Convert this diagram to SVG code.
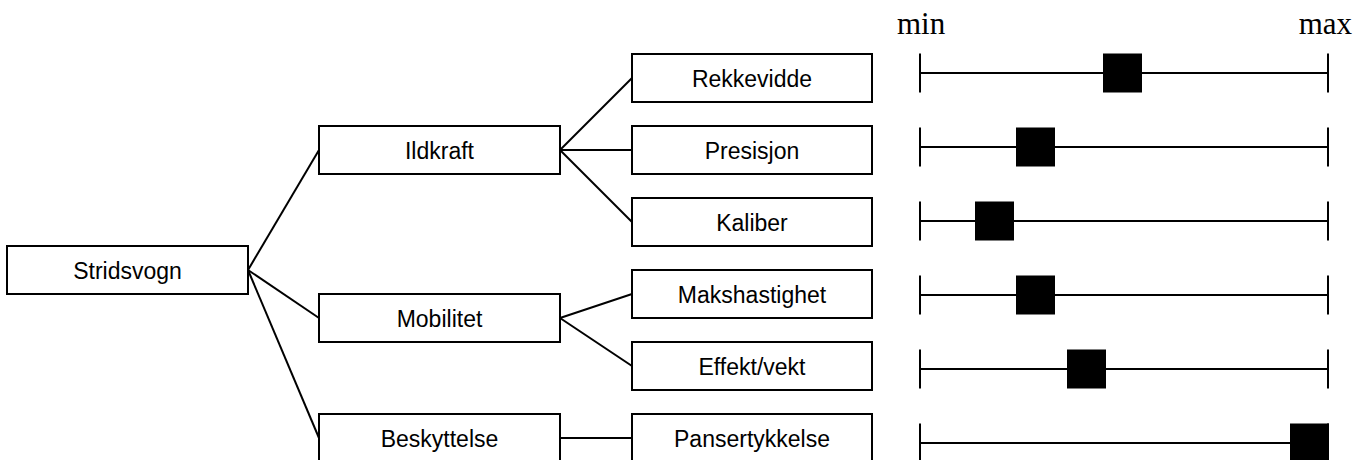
<svg xmlns="http://www.w3.org/2000/svg" width="1369" height="460" viewBox="0 0 1369 460">
<style>
.box rect{fill:#fff;stroke:#000;stroke-width:2}
.box text{font-family:"Liberation Sans",Arial,sans-serif;font-size:23px;text-anchor:middle;fill:#000}
.conn line{stroke:#000;stroke-width:2}
.scale line{stroke:#000;stroke-width:2}
.scale rect{fill:#000}
.lbl{font-family:"Liberation Serif","Times New Roman",serif;font-size:31px;fill:#000}
</style>
<rect width="1369" height="460" fill="#fff"/>
<g id="connectors" class="conn">
<line x1="248" y1="270" x2="319" y2="150"/>
<line x1="248" y1="270" x2="319" y2="318"/>
<line x1="248" y1="270" x2="319" y2="438"/>
<line x1="560" y1="150" x2="632" y2="78"/>
<line x1="560" y1="150" x2="632" y2="150"/>
<line x1="560" y1="150" x2="632" y2="222"/>
<line x1="560" y1="318" x2="632" y2="294"/>
<line x1="560" y1="318" x2="632" y2="366"/>
<line x1="560" y1="438" x2="632" y2="438"/>
</g>
<g id="stridsvogn" class="box"><rect x="7" y="246" width="241" height="48"/><text x="127.5" y="278.5">Stridsvogn</text></g>
<g id="ildkraft" class="box"><rect x="319" y="126" width="241" height="48"/><text x="439.5" y="158.5">Ildkraft</text></g>
<g id="mobilitet" class="box"><rect x="319" y="294" width="241" height="48"/><text x="439.5" y="326.5">Mobilitet</text></g>
<g id="beskyttelse" class="box"><rect x="319" y="414" width="241" height="48"/><text x="439.5" y="446.5">Beskyttelse</text></g>
<g id="rekkevidde" class="box"><rect x="632" y="54" width="240" height="48"/><text x="752" y="86.5">Rekkevidde</text></g>
<g id="presisjon" class="box"><rect x="632" y="126" width="240" height="48"/><text x="752" y="158.5">Presisjon</text></g>
<g id="kaliber" class="box"><rect x="632" y="198" width="240" height="48"/><text x="752" y="230.5">Kaliber</text></g>
<g id="makshastighet" class="box"><rect x="632" y="270" width="240" height="48"/><text x="752" y="302.5">Makshastighet</text></g>
<g id="effektvekt" class="box"><rect x="632" y="342" width="240" height="48"/><text x="752" y="374.5">Effekt/vekt</text></g>
<g id="pansertykkelse" class="box"><rect x="632" y="414" width="240" height="48"/><text x="752" y="446.5">Pansertykkelse</text></g>
<text class="lbl" x="897" y="34">min</text>
<text class="lbl" x="1352" y="34" text-anchor="end">max</text>
<g id="scale-rekkevidde" class="scale"><line x1="920" y1="53.5" x2="920" y2="92.5"/><line x1="1328" y1="53.5" x2="1328" y2="92.5"/><line x1="920" y1="73" x2="1328" y2="73"/><rect x="1103" y="53.5" width="39" height="39"/></g>
<g id="scale-presisjon" class="scale"><line x1="920" y1="127.5" x2="920" y2="166.5"/><line x1="1328" y1="127.5" x2="1328" y2="166.5"/><line x1="920" y1="147" x2="1328" y2="147"/><rect x="1016" y="127.5" width="39" height="39"/></g>
<g id="scale-kaliber" class="scale"><line x1="920" y1="201.5" x2="920" y2="240.5"/><line x1="1328" y1="201.5" x2="1328" y2="240.5"/><line x1="920" y1="221" x2="1328" y2="221"/><rect x="975" y="201.5" width="39" height="39"/></g>
<g id="scale-makshastighet" class="scale"><line x1="920" y1="275.5" x2="920" y2="314.5"/><line x1="1328" y1="275.5" x2="1328" y2="314.5"/><line x1="920" y1="295" x2="1328" y2="295"/><rect x="1016" y="275.5" width="39" height="39"/></g>
<g id="scale-effektvekt" class="scale"><line x1="920" y1="349.5" x2="920" y2="388.5"/><line x1="1328" y1="349.5" x2="1328" y2="388.5"/><line x1="920" y1="369" x2="1328" y2="369"/><rect x="1067" y="349.5" width="39" height="39"/></g>
<g id="scale-pansertykkelse" class="scale"><line x1="920" y1="423.5" x2="920" y2="462.5"/><line x1="1328" y1="423.5" x2="1328" y2="462.5"/><line x1="920" y1="443" x2="1328" y2="443"/><rect x="1290" y="423.5" width="39" height="39"/></g>
</svg>
